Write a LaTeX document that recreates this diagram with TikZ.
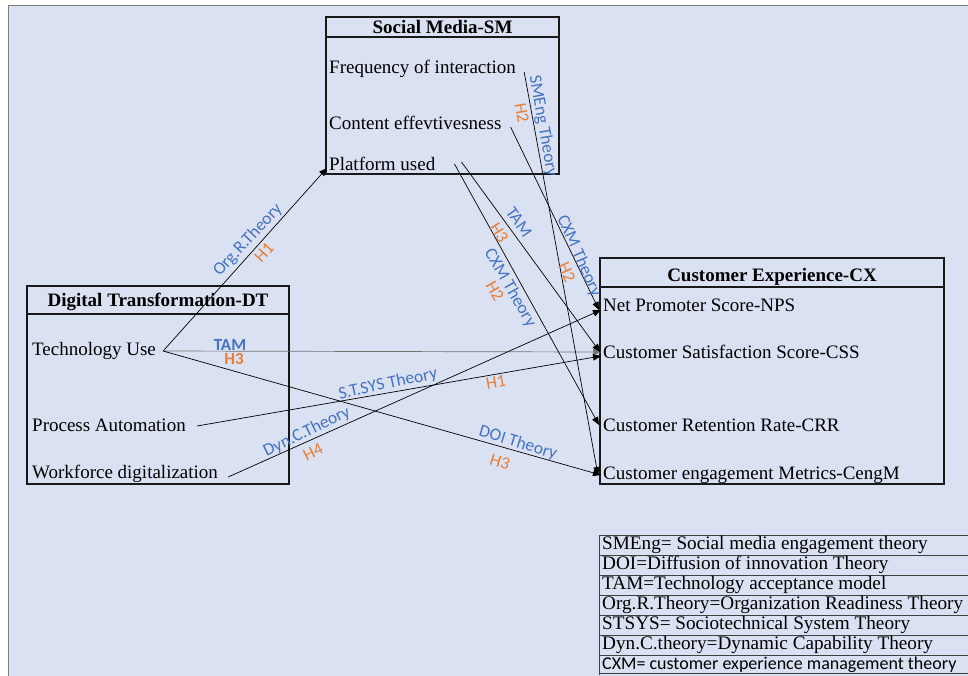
\documentclass[tikz,border=0pt]{standalone}
\usepackage{fontspec}
\setmainfont{Liberation Serif}
\newfontfamily\labfont{Carlito}
\usetikzlibrary{arrows.meta}
\definecolor{bgc}{RGB}{218,225,242}
\definecolor{labblue}{RGB}{68,114,196}
\definecolor{laborange}{RGB}{237,125,49}
\begin{document}
\begin{tikzpicture}[x=1pt,y=-1pt,
  item/.style={anchor=west,inner sep=2pt,font=\fontsize{19}{22}\selectfont},
  ttl/.style={inner sep=0pt,font=\bfseries\fontsize{19}{22}\selectfont},
  box/.style={draw=black!90,line width=1.6pt},
  sep/.style={draw=black!90,line width=1.2pt},
  conn/.style={draw=black,line width=0.7pt,-{Triangle[length=8pt,width=6.5pt]}},
  lbl/.style={font=\labfont\fontsize{17.5}{20}\selectfont,text=labblue,inner sep=0pt},
  hyp/.style={font=\labfont\fontsize{17.5}{20}\selectfont,text=laborange,inner sep=0pt},
  lblb/.style={font=\labfont\bfseries\fontsize{17}{20}\selectfont,text=labblue,inner sep=0pt},
  hypb/.style={font=\labfont\bfseries\fontsize{17}{20}\selectfont,text=laborange,inner sep=0pt},
  leg/.style={anchor=west,inner sep=0pt,font=\fontsize{19.2}{20}\selectfont},
  legline/.style={draw=black!75,line width=1pt}
]
\useasboundingbox (0,0) rectangle (968,675);
\fill[white] (0,0) rectangle (968,675);
\draw[fill=bgc,draw=gray,line width=1pt] (8,5) rectangle (990,695);

% ---- Social Media box
\draw[box] (326,17) rectangle (559,174);
\draw[sep] (326,37) -- (559,37);
\node[ttl] (smt) at (442.5,27) {Social Media-SM};
\node[item] (freq) at (327,69) {Frequency of interaction};
\node[item] (cont) at (327,123) {Content effevtivesness};
\node[item] (plat) at (327,164) {Platform used};

% ---- Digital Transformation box
\draw[box] (27,286) rectangle (289,484);
\draw[sep] (27,314) -- (289,314);
\node[ttl] (dtt) at (158,302) {Digital Transformation-DT};
\node[item] (tech) at (30,351) {Technology Use};
\node[item] (proc) at (30,425) {Process Automation};
\node[item] (work) at (30,474) {Workforce digitalization};

% ---- Customer Experience box
\draw[box] (600,258) rectangle (944,484);
\draw[sep] (600,287) -- (944,287);
\node[ttl] (cxt) at (772,277) {Customer Experience-CX};
\node[item] (nps) at (601,305) {Net Promoter Score-NPS};
\node[item] (css) at (601,352) {Customer Satisfaction Score-CSS};
\node[item] (crr) at (601,425) {Customer Retention Rate-CRR};
\node[item] (ceng) at (601,475) {Customer engagement Metrics-CengM};

% ---- connectors
\draw[conn] ([xshift=5pt]tech.east) -- ([yshift=-4pt]plat.west);
\draw[conn,draw=black!55] ([xshift=5pt]tech.east) -- (css.west);
\draw[conn] ([xshift=5pt]tech.east) -- (ceng.west);
\draw[conn] ([xshift=9pt,yshift=-1pt]proc.east) -- ([yshift=-4pt]css.west);
\draw[conn] ([xshift=8pt,yshift=-3pt]work.east) -- ([yshift=-5pt]nps.west);
\draw[conn] ([xshift=6pt,yshift=-3pt]freq.east) -- ([xshift=-3pt]ceng.west);
\draw[conn] ([xshift=7pt,yshift=-4pt]cont.east) -- ([xshift=-2pt,yshift=-5pt]nps.west);
\draw[conn] ([xshift=24pt,yshift=2pt]plat.east) -- ([xshift=-1pt]css.west);
\draw[conn] ([xshift=17pt]plat.east) -- ([xshift=-2pt]crr.west);

% ---- labels
\node[lbl,rotate=47] (l1) at (248,240) {Org.R.Theory};
\node[hyp,rotate=47] (h1) at (264,252) {H1};
\node[lblb] (l2) at (230,345) {TAM};
\node[hypb] (h2) at (234,359) {H3};
\node[lbl,rotate=12] (l3) at (388,384) {S.T.SYS Theory};
\node[hyp,rotate=10] (h3) at (496,382) {H1};
\node[lbl,rotate=26] (l4) at (307,432) {Dyn.C.Theory};
\node[hyp,rotate=26] (h4) at (313,452) {H4};
\node[lbl,rotate=-17] (l5) at (518,443) {DOI Theory};
\node[hyp,rotate=-17] (h5) at (500,462) {H3};
\node[lbl,rotate=-80] (l6) at (543,126) {SMEng Theory};
\node[hyp,rotate=-80] (h6) at (522,113) {H2};
\node[lbl,rotate=-66] (l7) at (579,256) {CXM Theory};
\node[hyp,rotate=-66] (h7) at (567,272) {H2};
\node[lbl,rotate=-55] (l8) at (519,222) {TAM};
\node[hyp,rotate=-58] (h8) at (499,233) {H3};
\node[lbl,rotate=-60] (l9) at (510,288) {CXM Theory};
\node[hyp,rotate=-60] (h9) at (495,291) {H2};

% ---- legend
\draw[legline] (599,535) -- (599,675);
\foreach \yy in {535,555,575,595,615,635,655,673}
  \draw[legline] (599,\yy) -- (968,\yy);
\node[leg] (g1) at (602,545) {SMEng= Social media engagement theory};
\node[leg] (g2) at (602,565) {DOI=Diffusion of innovation Theory};
\node[leg] (g3) at (602,585) {TAM=Technology acceptance model};
\node[leg] (g4) at (602,605) {Org.R.Theory=Organization Readiness Theory};
\node[leg] (g5) at (602,625) {STSYS= Sociotechnical System Theory};
\node[leg] (g6) at (602,645) {Dyn.C.theory=Dynamic Capability Theory};
\node[leg,font=\labfont\fontsize{18}{20}\selectfont] (g7) at (602,665) {CXM= customer experience management theory};
\end{tikzpicture}
\end{document}
